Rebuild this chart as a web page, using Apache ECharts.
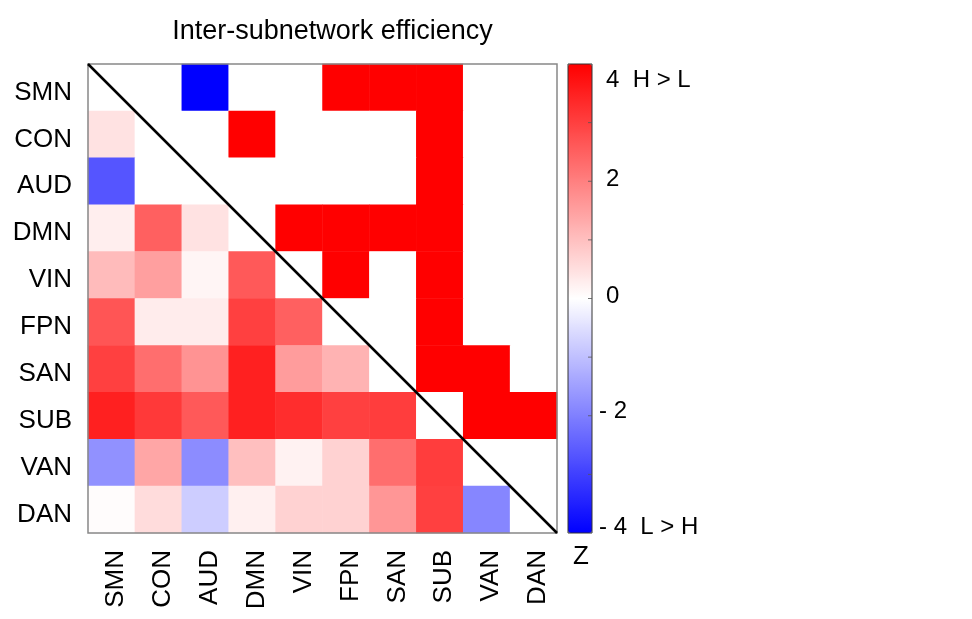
<!DOCTYPE html>
<html>
<head>
<meta charset="utf-8">
<script src="https://cdn.jsdelivr.net/npm/echarts@6/dist/echarts.min.js"></script>
<style>html,body{margin:0;padding:0;background:#fff}#c{width:972px;height:619px}</style>
</head>
<body>
<div id="c"></div>
<script>
const categories = ['SMN','CON','AUD','DMN','VIN','FPN','SAN','SUB','VAN','DAN'];
// rows (top to bottom) x columns (left to right)
const rowSMN = [0, 0, -4, 0, 0, 4, 4, 4, 0, 0];
const rowCON = [0.45, 0, 0, 4, 0, 0, 0, 4, 0, 0];
const rowAUD = [-2.67, 0, 0, 0, 0, 0, 0, 4, 0, 0];
const rowDMN = [0.27, 2.5, 0.45, 0, 4, 4, 4, 4, 0, 0];
const rowVIN = [1.07, 1.5, 0.15, 2.6, 0, 4, 0, 4, 0, 0];
const rowFPN = [2.67, 0.3, 0.3, 3.0, 2.5, 0, 0, 4, 0, 0];
const rowSAN = [3.0, 2.27, 1.7, 3.5, 1.55, 1.2, 0, 4, 4, 0];
const rowSUB = [3.5, 3.1, 2.6, 3.5, 3.3, 3.0, 3.05, 0, 4, 4];
const rowVAN = [-1.73, 1.4, -1.8, 1.0, 0.2, 0.7, 2.27, 3.05, 0, 0];
const rowDAN = [0.05, 0.55, -0.78, 0.23, 0.7, 0.7, 1.65, 3.0, -1.9, 0];
const rows = [rowSMN,rowCON,rowAUD,rowDMN,rowVIN,rowFPN,rowSAN,rowSUB,rowVAN,rowDAN];
const colorbarLabels = {'4':'{t|4  H > L}','2':'{p|2}','0':'{p|0}','-2':'{n|- 2}','-4':'{b|- 4  L > H}'};
const colorbarMinorTicks = [-3, -2, -1, 0, 1, 2, 3];
const titleText = 'Inter-subnetwork efficiency';
const colorbarName = 'Z';

const heatData = [];
rows.forEach((r, yi) => r.forEach((v, xi) => heatData.push([xi, yi, v])));
const diagonal = [[0, 0], [categories.length, categories.length]];

const chart = echarts.init(document.getElementById('c'), null, {renderer: 'canvas'});
const FONT = 'Liberation Sans';
const lab = (size, extra) => Object.assign({fontSize: size, fontFamily: FONT, color: '#000'}, extra);
chart.setOption({
  animation: false,
  textStyle: {fontFamily: FONT},
  title: {
    text: titleText, left: 327.5, top: 13, textAlign: 'center',
    textStyle: {fontSize: 27, fontWeight: 'normal', color: '#000', fontFamily: FONT}
  },
  grid: [
    {left: 88, top: 64, width: 469, height: 469, show: true, borderColor: '#888', borderWidth: 1.5, backgroundColor: 'transparent', z: 3},
    {left: 568, top: 64, width: 24, height: 469, show: true, borderColor: '#333', borderWidth: 1, backgroundColor: 'transparent', z: 10}
  ],
  xAxis: [
    {type: 'category', data: categories, gridIndex: 0,
     axisLine: {show: false}, axisTick: {show: false}, splitLine: {show: false},
     axisLabel: {rotate: 90, margin: 17, interval: 0, fontSize: 26, fontFamily: FONT, color: '#000',
       formatter: v => '{c|' + v + '}', rich: {c: lab(26, {padding: [9, 0, 0, 0]})}}},
    {type: 'value', gridIndex: 0, min: 0, max: categories.length, show: false},
    {type: 'value', gridIndex: 1, min: 0, max: 1, show: false}
  ],
  yAxis: [
    {type: 'category', data: categories, inverse: true, gridIndex: 0,
     axisLine: {show: false}, axisTick: {show: false}, splitLine: {show: false},
     axisLabel: {margin: 16, interval: 0, fontSize: 26, fontFamily: FONT, color: '#000',
       formatter: v => '{r|' + v + '}', rich: {r: lab(26, {padding: [10, 0, 0, 0]})}}},
    {type: 'value', gridIndex: 0, min: 0, max: categories.length, inverse: true, show: false},
    {type: 'value', gridIndex: 1, min: -4, max: 4, interval: 2, position: 'right',
     axisLine: {show: false}, splitLine: {show: false}, axisTick: {show: false},
     axisLabel: {
       margin: 7, align: 'left', fontSize: 24, fontFamily: FONT, color: '#000',
       formatter: v => colorbarLabels[String(v)] || '',
       rich: {
         t: lab(24, {padding: [32, 0, 0, 7]}),
         p: lab(24, {padding: [0, 0, 4, 7]}),
         n: lab(24, {padding: [0, 0, 8, 0]}),
         b: lab(24, {padding: [0, 0, 12, 0]})
       }
     }}
  ],
  visualMap: {
    type: 'continuous', min: -4, max: 4, seriesIndex: 0,
    left: 568, top: 64, itemWidth: 24, itemHeight: 469, padding: 0,
    calculable: false, hoverLink: false, text: null, showLabel: false,
    inRange: {color: ['#0000ff', '#ffffff', '#ff0000']}
  },
  graphic: [{
    type: 'text', left: 573, top: 544,
    style: {text: colorbarName, fontSize: 26, fill: '#000', fontFamily: FONT}
  }],
  series: [
    {type: 'heatmap', data: heatData, xAxisIndex: 0, yAxisIndex: 0, emphasis: {disabled: true}, z: 2},
    {type: 'line', data: diagonal, xAxisIndex: 1, yAxisIndex: 1, symbol: 'none', silent: true,
     lineStyle: {color: '#000', width: 2.5}, z: 5},
    {type: 'scatter', data: colorbarMinorTicks.map(v => [1, v]), xAxisIndex: 2, yAxisIndex: 2,
     symbol: 'rect', symbolSize: [4, 1], symbolOffset: [-2, 0], silent: true,
     itemStyle: {color: '#555'}, z: 10}
  ]
});
</script>
</body>
</html>
